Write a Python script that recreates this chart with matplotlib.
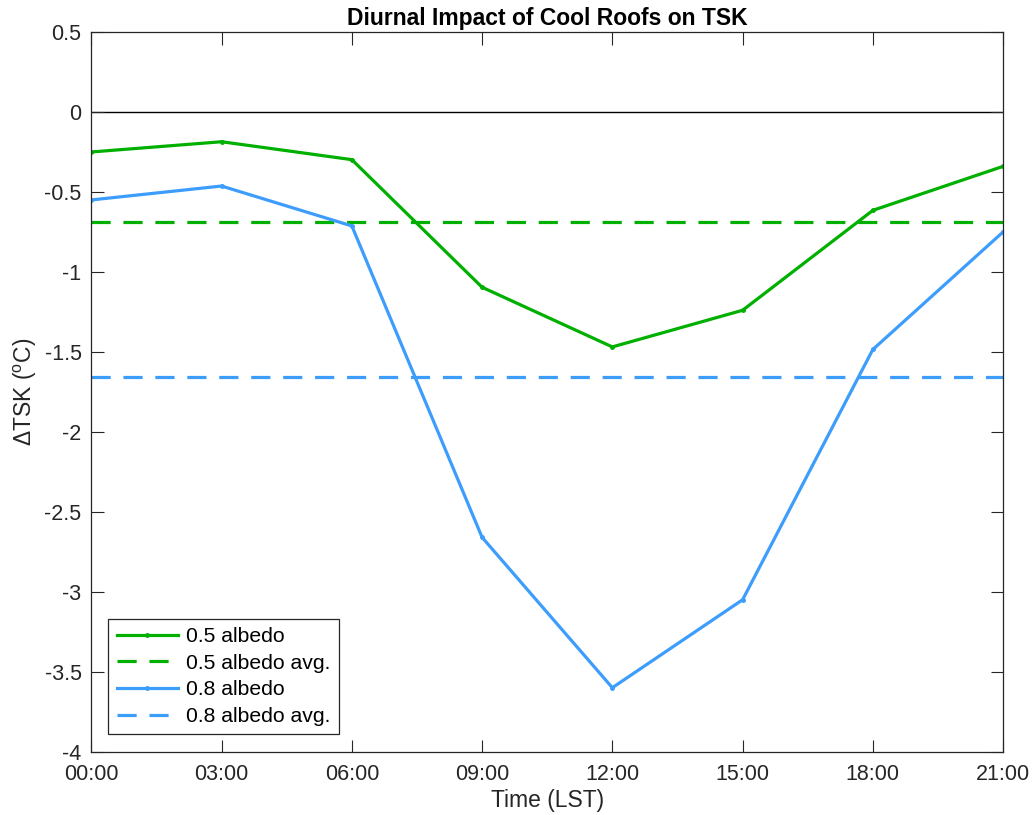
import numpy as np
import matplotlib
matplotlib.use("Agg")
import matplotlib.pyplot as plt

plt.rcParams['font.family'] = ['Liberation Sans', 'DejaVu Sans']
plt.rcParams['mathtext.fontset'] = 'custom'
plt.rcParams['mathtext.rm'] = 'Liberation Sans'
plt.rcParams['mathtext.it'] = 'Liberation Sans'

# Local standard time (hours) and tick labels
hours = [0, 3, 6, 9, 12, 15, 18, 21]
hour_labels = ["00:00", "03:00", "06:00", "09:00", "12:00", "15:00", "18:00", "21:00"]

# Change in skin temperature (deg C) for each roof albedo
dtsk_05 = [-0.25, -0.186, -0.298, -1.096, -1.469, -1.24, -0.615, -0.34]
dtsk_08 = [-0.55, -0.463, -0.7125, -2.66, -3.60, -3.05, -1.485, -0.75]

yticks = [0.5, 0, -0.5, -1, -1.5, -2, -2.5, -3, -3.5, -4]
ytick_labels = ["0.5", "0", "-0.5", "-1", "-1.5", "-2", "-2.5", "-3", "-3.5", "-4"]

green = "#00b000"
blue = "#3d9dfc"
axis_col = "#262626"

fig = plt.figure(figsize=(10.32, 8.15), dpi=100)
ax = fig.add_axes([0.0885, 0.0777, 0.8835, 0.883])

ax.axhline(0, color="black", lw=1.0, zorder=1)

avg_05 = np.mean(dtsk_05)
avg_08 = np.mean(dtsk_08)

ax.plot(hours, dtsk_05, color=green, lw=2.3, marker='.', ms=5, label="0.5 albedo")
ax.axhline(avg_05, color=green, lw=2.3, ls=(0, (6, 4)), label="0.5 albedo avg.")
ax.plot(hours, dtsk_08, color=blue, lw=2.3, marker='.', ms=5, label="0.8 albedo")
ax.axhline(avg_08, color=blue, lw=2.3, ls=(0, (6, 4)), label="0.8 albedo avg.")

ax.set_xlim(0, 21)
ax.set_ylim(-4, 0.5)
ax.set_xticks(hours)
ax.set_xticklabels(hour_labels)
ax.set_yticks(yticks)
ax.set_yticklabels(ytick_labels)

ax.tick_params(axis='both', direction='in', length=9, width=0.8, top=True, right=True,
               labelsize=15.5, colors=axis_col)
ax.tick_params(axis='x', pad=9)
ax.tick_params(axis='y', pad=7)
for s in ax.spines.values():
    s.set_color(axis_col)
    s.set_linewidth(0.9)

ax.set_title("Diurnal Impact of Cool Roofs on TSK", fontsize=16.5, fontweight='bold',
             color='black', pad=5)
ax.set_xlabel("Time (LST)", fontsize=16.5, color=axis_col, labelpad=3)
ax.set_ylabel(r"$\Delta$TSK ($^{\rm o}$C)", fontsize=16.5, color=axis_col, labelpad=4)

leg = ax.legend(loc='lower left', bbox_to_anchor=(0.0185, 0.024), fontsize=15.2,
                frameon=True, fancybox=False, edgecolor=axis_col, framealpha=1,
                handlelength=2.9, handletextpad=0.4, borderpad=0.4, labelspacing=0.36,
                borderaxespad=0)
leg.get_frame().set_linewidth(0.9)

fig.savefig("out.png", dpi=100)
